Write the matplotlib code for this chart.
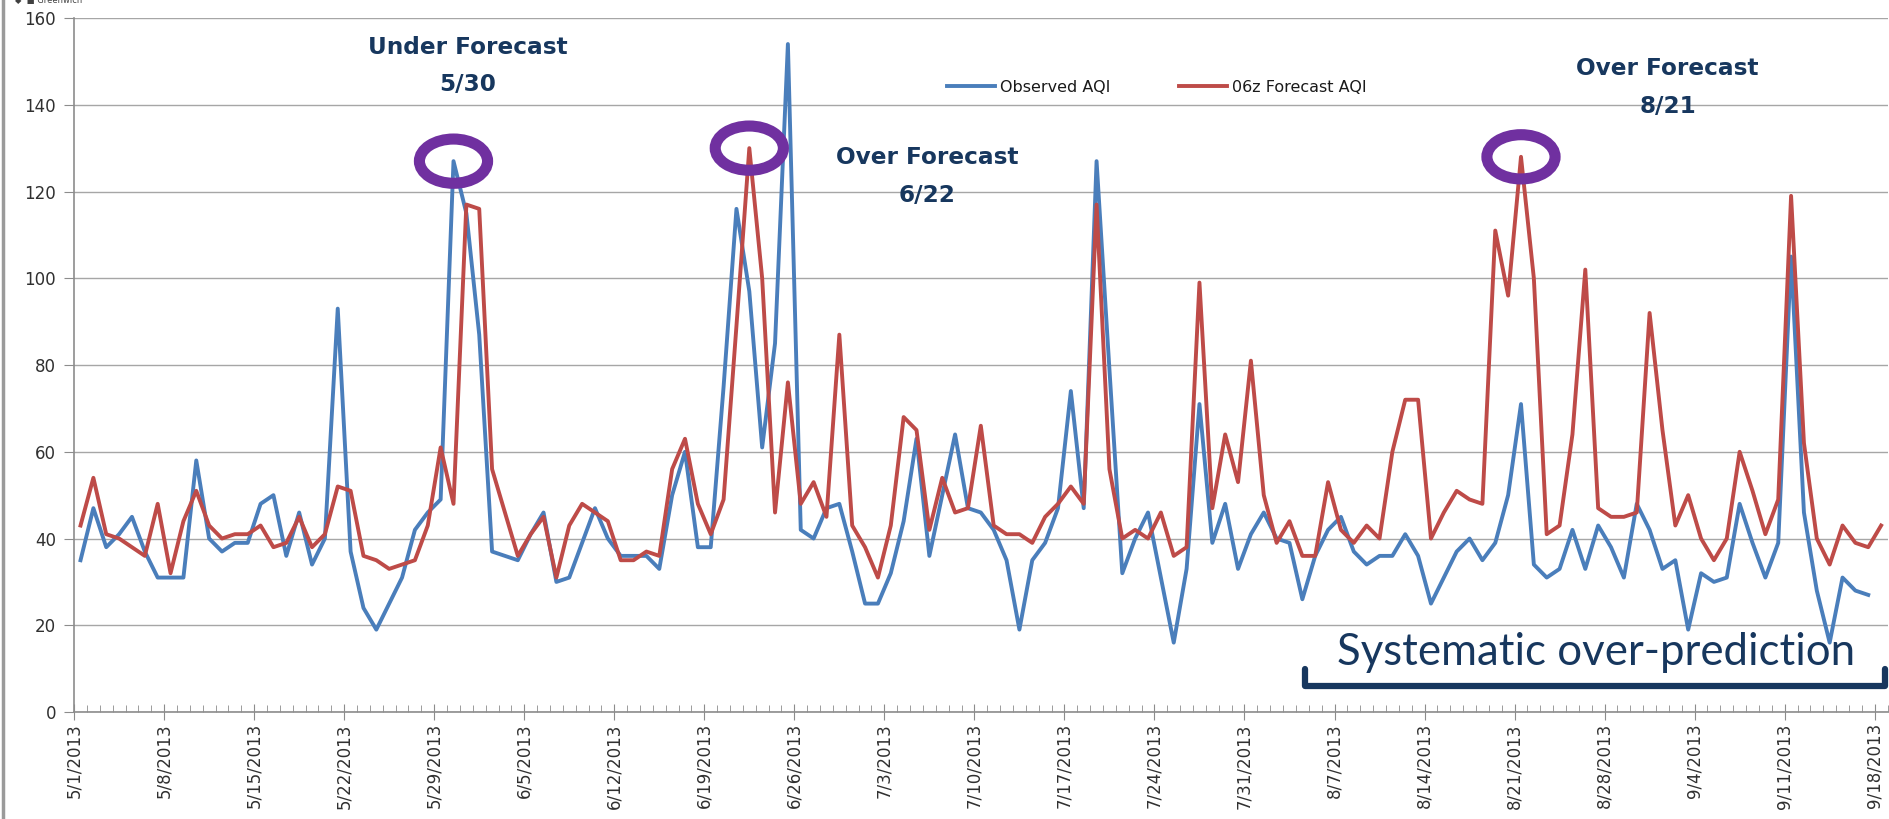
import numpy as np
import pandas as pd
import matplotlib

matplotlib.use("Agg")
from matplotlib import pyplot as plt
from matplotlib.patches import Ellipse
from matplotlib.ticker import FixedLocator, MultipleLocator

# daily AQI, 5/1/2013 .. 9/18/2013 (observed stops one day earlier)
days = pd.date_range("2013-05-01", "2013-09-18", freq="D")

observed_aqi = [
    35, 47, 38, 41, 45, 37, 31, 31, 31, 58, 40, 37, 39, 39, 48, 50, 36, 46, 34, 40,
    93, 37, 24, 19, 25, 31, 42, 46, 49, 127, 115, 87, 37, 36, 35, 41, 46, 30, 31, 39,
    47, 40, 36, 36, 36, 33, 50, 60, 38, 38, 75, 116, 97, 61, 85, 154, 42, 40, 47, 48,
    37, 25, 25, 32, 44, 63, 36, 50, 64, 47, 46, 42, 35, 19, 35, 39, 47, 74, 47, 127,
    79, 32, 40, 46, 31, 16, 33, 71, 39, 48, 33, 41, 46, 40, 39, 26, 36, 42, 45, 37,
    34, 36, 36, 41, 36, 25, 31, 37, 40, 35, 39, 50, 71, 34, 31, 33, 42, 33, 43, 38,
    31, 48, 42, 33, 35, 19, 32, 30, 31, 48, 39, 31, 39, 105, 46, 28, 16, 31, 28, 27,
]

forecast_aqi = [
    43, 54, 41, 40, 38, 36, 48, 32, 44, 51, 43, 40, 41, 41, 43, 38, 39, 45, 38, 41,
    52, 51, 36, 35, 33, 34, 35, 43, 61, 48, 117, 116, 56, 46, 36, 41, 45, 31, 43, 48,
    46, 44, 35, 35, 37, 36, 56, 63, 48, 41, 49, 89, 130, 100, 46, 76, 48, 53, 45, 87,
    43, 38, 31, 43, 68, 65, 42, 54, 46, 47, 66, 43, 41, 41, 39, 45, 48, 52, 48, 117,
    56, 40, 42, 40, 46, 36, 38, 99, 47, 64, 53, 81, 50, 39, 44, 36, 36, 53, 42, 39,
    43, 40, 60, 72, 72, 40, 46, 51, 49, 48, 111, 96, 128, 100, 41, 43, 64, 102, 47, 45,
    45, 46, 92, 65, 43, 50, 40, 35, 40, 60, 51, 41, 49, 119, 62, 40, 34, 43, 39, 38, 43,
]

series_labels = ["Observed AQI", "06z Forecast AQI"]
circled = [("obs", "2013-05-30"), ("fcst", "2013-06-22"), ("fcst", "2013-08-21")]

BLUE = "#4A7EBB"
RED = "#BE4B48"
NAVY = "#17375E"
PURPLE = "#7030A0"
GRID = "#A6A6A6"

fig = plt.figure(figsize=(18.9, 8.19), dpi=100)
fig.patch.set_facecolor("white")
ax = fig.add_axes([0.0392, 0.1306, 0.9595, 0.8474])

x_obs = np.arange(len(observed_aqi)) + 0.5
x_fc = np.arange(len(forecast_aqi)) + 0.5
ax.plot(x_obs, observed_aqi, color=BLUE, lw=2.8, label=series_labels[0], zorder=3)
ax.plot(x_fc, forecast_aqi, color=RED, lw=2.8, label=series_labels[1], zorder=3)

ax.set_xlim(0, len(days))
ax.set_ylim(0, 160)

# weekly labels, daily minor ticks
week_pos = np.arange(0, len(days), 7)
ax.xaxis.set_major_locator(FixedLocator(week_pos))
ax.set_xticklabels([f"{d.month}/{d.day}/{d.year}" for d in days[week_pos]],
                   rotation=90, fontsize=12, color="#303030")
ax.xaxis.set_minor_locator(MultipleLocator(1))
ax.tick_params(axis="x", which="major", direction="inout", length=12, color="#8C8C8C", pad=2)
ax.tick_params(axis="x", which="minor", direction="in", length=5, color="#8C8C8C")

ax.set_yticks(np.arange(0, 161, 20))
ax.tick_params(axis="y", direction="out", length=7, color="#8C8C8C", labelsize=12,
               labelcolor="#303030", pad=6)

ax.yaxis.grid(True, color=GRID, lw=1.0)
ax.set_axisbelow(True)
for side in ("top", "right"):
    ax.spines[side].set_visible(False)
for side in ("left", "bottom"):
    ax.spines[side].set_color("#8C8C8C")
    ax.spines[side].set_linewidth(1.2)

leg = ax.legend(loc="center", bbox_to_anchor=(0.597, 0.90), ncol=2, frameon=False,
                fontsize=11.5, handlelength=3.0, columnspacing=4.3, handletextpad=0.3)
for t in leg.get_texts():
    t.set_color("#1A1A1A")

# purple rings round the three highlighted peaks
for which, day in circled:
    idx = days.get_loc(pd.Timestamp(day))
    val = observed_aqi[idx] if which == "obs" else forecast_aqi[idx]
    ax.add_patch(Ellipse((idx + 0.5, val), width=5.3, height=10.2, fill=False,
                         edgecolor=PURPLE, lw=8, zorder=5))

note_kw = dict(ha="center", va="center", fontsize=16.7, fontweight="bold", color=NAVY,
               linespacing=1.8)
ax.text(30.6, 149, "Under Forecast\n5/30", **note_kw)
ax.text(66.3, 123.5, "Over Forecast\n6/22", **note_kw)
ax.text(123.9, 144, "Over Forecast\n8/21", **note_kw)

ax.text(118.3, 13.8, "Systematic over-prediction", ha="center", va="center",
        fontsize=31.5, family=["Lato", "DejaVu Sans"], color=NAVY)
ax.plot([95.7, 95.7, 140.8, 140.8], [10, 6, 6, 10], color=NAVY, lw=4.5,
        solid_joinstyle="round", solid_capstyle="round", clip_on=False, zorder=4)

# left border and clipped remnant from the slide
fig.add_artist(plt.Line2D([0.0015, 0.0015], [0, 1], color="#9A9A9A", lw=2.5))
fig.text(0.008, 0.999, "\u25C6  \u25A0 Greenwich", fontsize=6, va="center", color="#404040")

fig.savefig("out.png", dpi=100)
